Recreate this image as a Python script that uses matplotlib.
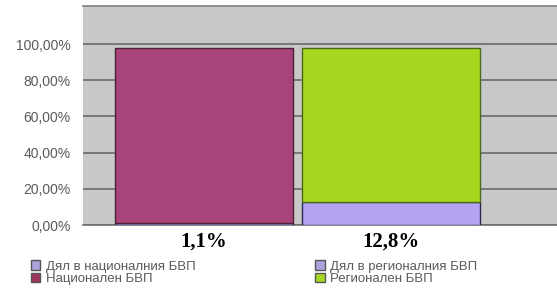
import matplotlib.pyplot as plt
from matplotlib.patches import Patch
from matplotlib.ticker import FuncFormatter

# data
categories = ['национален', 'регионален']
share = [1.1, 12.8]          # дял в БВП, %
total = [98.0, 98.0]         # височина на стълбовете
share_labels = ['1,1%', '12,8%']

top_part = [t - s for t, s in zip(total, share)]

c_share = '#B4A3F2'
c_nat = '#A8437C'
c_reg = '#A6D820'
c_bg = '#C8C8C8'

plt.rcParams['font.family'] = ['Liberation Sans', 'DejaVu Sans']

fig = plt.figure(figsize=(5.57, 2.90), dpi=100)
ax = fig.add_axes([0.149, 0.224, 0.851, 0.755])
ax.set_facecolor(c_bg)

x = [0, 1]
w = 0.952
ax.bar(x, share, width=w, color=c_share, edgecolor='#2a2a50', linewidth=1.0, zorder=3)
ax.bar(x[0], top_part[0], bottom=share[0], width=w, color=c_nat,
       edgecolor='#4a2035', linewidth=1.0, zorder=3)
ax.bar(x[1], top_part[1], bottom=share[1], width=w, color=c_reg,
       edgecolor='#4a6a18', linewidth=1.0, zorder=3)

ax.set_xlim(-0.647, 1.888)
ax.set_ylim(0, 121)
ax.set_yticks(range(0, 101, 20))
ax.yaxis.set_major_formatter(FuncFormatter(lambda v, p: f'{v:.2f}'.replace('.', ',') + '%'))
ax.tick_params(axis='y', length=0, pad=9, labelsize=10, labelcolor='#5a5a5a')
ax.set_xticks([])
ax.grid(axis='y', color='#6a6a6a', linewidth=1.2, zorder=1)
for s in ['left', 'right']:
    ax.spines[s].set_visible(False)
ax.spines['top'].set_color('#808080')
ax.spines['top'].set_linewidth(1.2)
ax.spines['bottom'].set_color('#707070')
ax.spines['bottom'].set_linewidth(1.2)

for xi, lab in zip(x, share_labels):
    ax.text(xi, -3.5, lab, ha='center', va='top', fontsize=15, fontweight='bold',
            family='Liberation Serif', clip_on=False)

leg_kw = dict(loc='upper left', frameon=False, fontsize=9.5, labelcolor='#5a5a5a',
              handlelength=0.75, handleheight=0.75, handletextpad=0.4,
              labelspacing=0.0, borderpad=0)
fig.legend(handles=[Patch(facecolor='#ABA3DC', edgecolor='#555'),
                    Patch(facecolor='#A0355F', edgecolor='#555')],
           labels=['Дял в националния БВП', 'Национален БВП'],
           bbox_to_anchor=(0.043, 0.125), **leg_kw)
fig.legend(handles=[Patch(facecolor='#ABA3DC', edgecolor='#555'),
                    Patch(facecolor='#A6D820', edgecolor='#555')],
           labels=['Дял в регионалния БВП', 'Регионален БВП'],
           bbox_to_anchor=(0.553, 0.125), **leg_kw)

fig.savefig('out.png', dpi=100)
